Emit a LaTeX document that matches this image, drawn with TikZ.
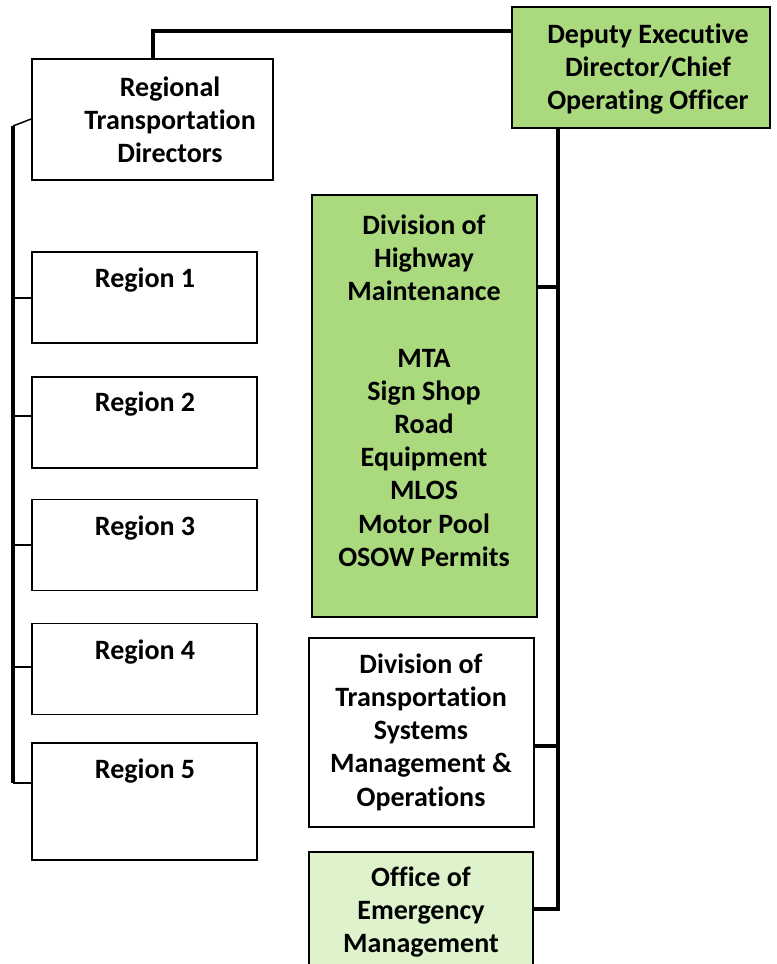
\documentclass[tikz,border=0pt]{standalone}
\usepackage{fontspec}
\setmainfont{Carlito}[RawFeature={-liga,-dlig,-calt}]
\definecolor{midgreen}{RGB}{170,217,126}
\definecolor{palegreen}{RGB}{222,242,204}
\newcommand{\tion}{t\kern0pt ion}
\tikzset{
  box/.style={draw=black, line width=1.3pt, rectangle, inner sep=0pt},
  lbl/.style={font=\fontsize{21pt}{24.9pt}\selectfont\bfseries, align=center, inner sep=0pt},
  bus/.style={line width=2.3pt},
  tick/.style={line width=1.1pt},
}
\begin{document}
\begin{tikzpicture}[x=0.75pt,y=-0.75pt]
\clip (0,0) rectangle (776,964);
\fill[white] (0,0) rectangle (776,964);
% boxes
\node[box, fill=midgreen, minimum width=258*0.75pt, minimum height=121*0.75pt] (dep) at (641,67.5) {};
\node[box, fill=white, minimum width=241*0.75pt, minimum height=121*0.75pt] (rtd) at (152.5,119.5) {};
\node[box, fill=white, minimum width=225*0.75pt, minimum height=91*0.75pt] (r1) at (144.5,297.5) {};
\node[box, fill=white, minimum width=225*0.75pt, minimum height=91*0.75pt] (r2) at (144.5,422.5) {};
\node[box, fill=white, minimum width=225*0.75pt, minimum height=91*0.75pt] (r3) at (144.5,545) {};
\node[box, fill=white, minimum width=225*0.75pt, minimum height=91*0.75pt] (r4) at (144.5,669) {};
\node[box, fill=white, minimum width=225*0.75pt, minimum height=117*0.75pt] (r5) at (144.5,801.5) {};
\node[box, fill=midgreen, minimum width=225*0.75pt, minimum height=422*0.75pt] (dhm) at (424.5,406) {};
\node[box, fill=white, minimum width=225*0.75pt, minimum height=189*0.75pt] (tsmo) at (421.5,732.5) {};
\node[box, fill=palegreen, minimum width=224*0.75pt, minimum height=130*0.75pt] (oem) at (421,917) {};
% labels
\node[lbl] (tdep) at (648,69) {Deputy Executive\\Director/Chief\\Operating Officer};
\node[lbl] (trtd) at (170,120) {Regional\\Transporta\tion\\Directors};
\node[lbl] (tr1) at (145,280) {Region 1};
\node[lbl] (tr2) at (145,404) {Region 2};
\node[lbl] (tr3) at (145,528) {Region 3};
\node[lbl] (tr4) at (145,652) {Region 4};
\node[lbl] (tr5) at (145,771) {Region 5};
\node[lbl] (tdhm) at (424,390.5) {Division of\\Highway\\Maintenance\\[24.9pt]MTA\\Sign Shop\\Road\\Equipment\\MLOS\\Motor Pool\\OSOW Permits};
\node[lbl] (ttsmo) at (421,732) {Division of\\Transporta\tion\\Systems\\Management \&\\Operations};
\node[lbl] (toem) at (421,912) {Office of\\Emergency\\Management};
% connector coordinates
\coordinate (topl) at (153,31);
\coordinate (lb) at (13,126);
\coordinate (lbend) at (13,783);
\coordinate (rb) at (558,909);
% connectors
\draw[bus] (rtd.north -| topl) -- (topl) -- (topl -| dep.west);
\draw[tick] (rtd.west |- 0,119) -- (lb);
\draw[bus] (lb) -- (lbend);
\draw[tick] (lb |- 0,298) -- (r1.west |- 0,298);
\draw[tick] (lb |- 0,416) -- (r2.west |- 0,416);
\draw[tick] (lb |- 0,545) -- (r3.west |- 0,545);
\draw[tick] (lb |- 0,667) -- (r4.west |- 0,667);
\draw[tick] (lbend) -- (r5.west |- lbend);
\draw[bus] (dep.south -| rb) -- (rb) -- (rb -| oem.east);
\draw[bus] (dhm.east |- 0,287) -- (rb |- 0,287);
\draw[bus] (tsmo.east |- 0,746) -- (rb |- 0,746);
\end{tikzpicture}
\end{document}
